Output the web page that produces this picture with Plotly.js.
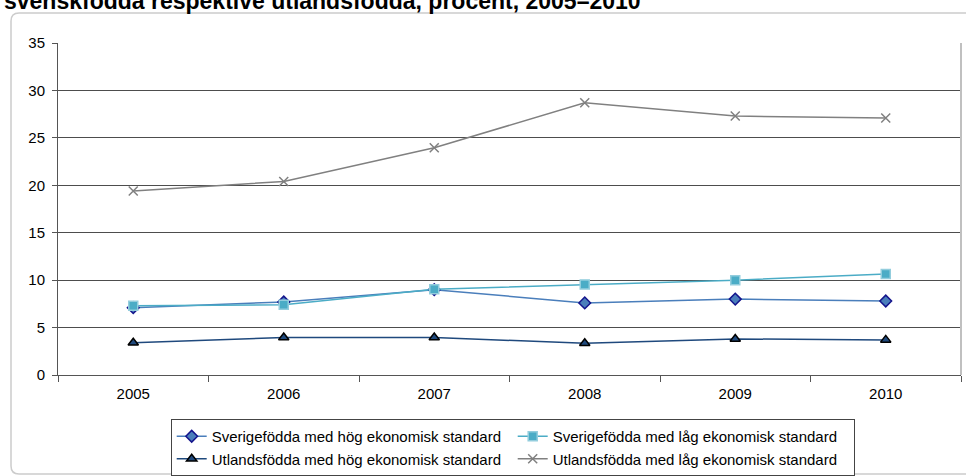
<!DOCTYPE html>
<html>
<head>
<meta charset="utf-8">
<script src="https://cdn.plot.ly/plotly-3.0.1.min.js"></script>
<style>html,body{margin:0;padding:0;background:#fff;}#chart{width:967px;height:476px;}</style>
</head>
<body>
<div id="chart"></div>
<script>
const years = ['2005', '2006', '2007', '2008', '2009', '2010'];
const sverigeHog = [7.1, 7.7, 9.0, 7.6, 8.0, 7.8];
const sverigeLag = [7.3, 7.4, 9.05, 9.55, 10.0, 10.65];
const utlandHog = [3.4, 3.95, 3.95, 3.35, 3.8, 3.7];
const utlandLag = [19.4, 20.4, 23.95, 28.7, 27.3, 27.1];
const seriesNames = [
  'Sverigefödda med hög ekonomisk standard',
  'Sverigefödda med låg ekonomisk standard',
  'Utlandsfödda med hög ekonomisk standard',
  'Utlandsfödda med låg ekonomisk standard'
];
const titleText = 'svenskfödda respektive utlandsfödda, procent, 2005–2010';

const W = 967, H = 476, L = 58, R = 6, T = 43, B = 101;
const pw = W - L - R, ph = H - T - B;
const px = v => (v - L) / pw;
const py = v => (H - B - v) / ph;

const traces = [
  {x: years, y: sverigeHog, name: seriesNames[0], type: 'scatter', mode: 'lines+markers',
   line: {color: '#4a7ebb', width: 1.5},
   marker: {symbol: 'diamond', size: 9, color: '#4a7ebb', line: {color: '#14148c', width: 1.5}}},
  {x: years, y: sverigeLag, name: seriesNames[1], type: 'scatter', mode: 'lines+markers',
   line: {color: '#4bacc6', width: 1.5},
   marker: {symbol: 'square', size: 9, color: '#4bacc6', line: {color: '#93cddd', width: 1.5}}},
  {x: years, y: utlandHog, name: seriesNames[2], type: 'scatter', mode: 'lines+markers',
   line: {color: '#1f497d', width: 1.5},
   marker: {symbol: 'triangle-up', size: 9, color: '#1f497d', line: {color: '#000000', width: 1.5}}},
  {x: years, y: utlandLag, name: seriesNames[3], type: 'scatter', mode: 'lines+markers',
   line: {color: '#808080', width: 1.5},
   marker: {symbol: 'x-thin', size: 9, color: '#808080', line: {color: '#808080', width: 1.5}}}
];

// rounded frame
const x0 = px(11), x1 = px(966), y0 = py(13), y1 = py(474);
const rx = 8 / pw, ry = 8 / ph;
const framePath = `M ${x0 + rx},${y0} L ${x1},${y0} M ${x0 + rx},${y0} Q ${x0},${y0} ${x0},${y0 - ry} L ${x0},${y1 + ry} Q ${x0},${y1} ${x0 + rx},${y1} L ${x1},${y1}`;

const layout = {
  width: W, height: H,
  margin: {l: L, r: R, t: T, b: B, pad: 0, autoexpand: false},
  paper_bgcolor: '#ffffff', plot_bgcolor: '#ffffff',
  font: {family: 'Arial, "Liberation Sans", sans-serif', size: 15, color: '#000'},
  showlegend: true,
  xaxis: {
    type: 'category', range: [-0.5, 5.5], fixedrange: true, automargin: false,
    showgrid: false, showline: true, linecolor: '#555', linewidth: 1,
    ticks: 'outside', tickson: 'boundaries', ticklen: 6, tickcolor: '#555', tickwidth: 1,
    ticklabelstandoff: 5, tickfont: {size: 15, color: '#000'}, zeroline: false
  },
  yaxis: {
    range: [0, 35], dtick: 5, tick0: 0, fixedrange: true, automargin: false,
    showgrid: true, gridcolor: '#4d4d4d', gridwidth: 1,
    showline: true, linecolor: '#555', linewidth: 1,
    ticks: 'outside', ticklen: 5, tickcolor: '#555', tickwidth: 1,
    ticklabelstandoff: 4, tickfont: {size: 15, color: '#000'}, zeroline: false
  },
  legend: {
    orientation: 'h', x: px(170.7), y: py(419), xanchor: 'left', yanchor: 'top',
    bordercolor: '#444', borderwidth: 1, bgcolor: '#fff',
    font: {size: 15, color: '#000'},
    entrywidth: 296, entrywidthmode: 'pixels', tracegroupgap: 0, traceorder: 'normal'
  },
  shapes: [
    {type: 'path', xref: 'paper', yref: 'paper', path: framePath, line: {color: '#cccccc', width: 1.5}},
    {type: 'line', xref: 'paper', yref: 'paper', x0: 1, x1: 1, y0: 0, y1: 1, line: {color: '#c0c0c0', width: 2}}
  ],
  annotations: [
    {text: '<b>' + titleText + '</b>', xref: 'paper', yref: 'paper', x: px(2), y: py(1),
     xanchor: 'left', yanchor: 'middle', showarrow: false,
     font: {size: 23, color: '#000', family: 'Arial, "Liberation Sans", sans-serif'}}
  ]
};

Plotly.newPlot('chart', traces, layout, {displayModeBar: false, staticPlot: true});
</script>
</body>
</html>
